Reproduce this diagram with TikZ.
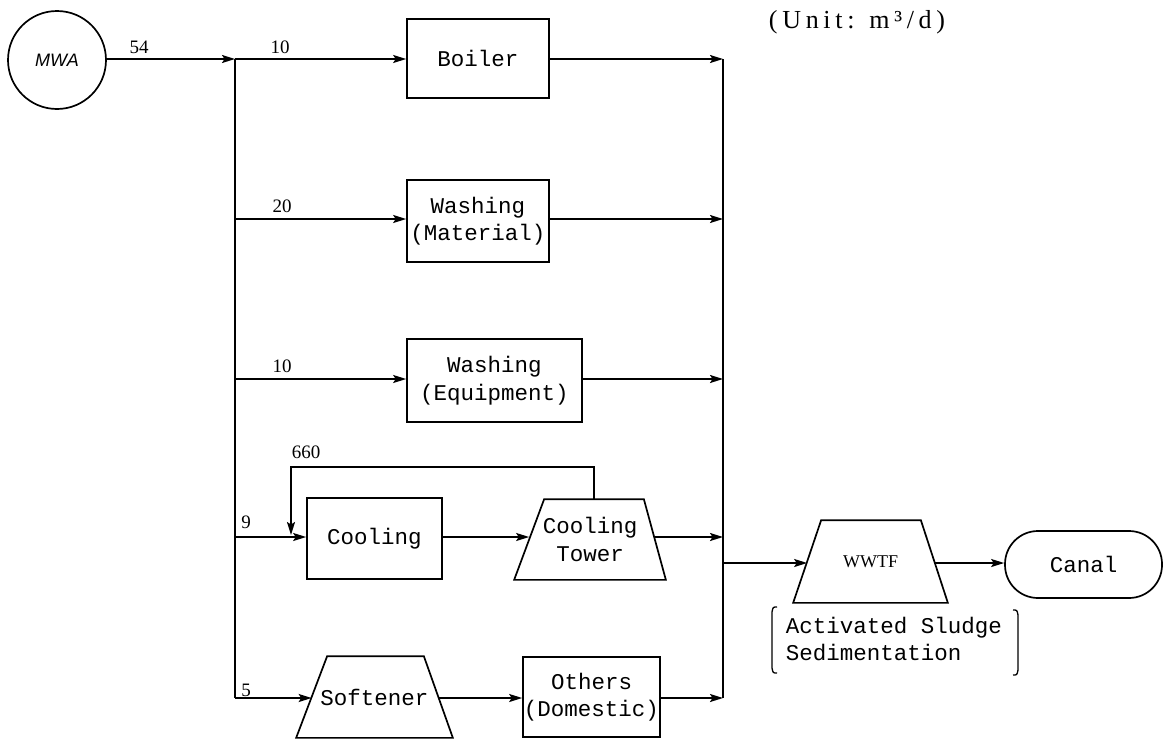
\documentclass[tikz,border=0pt]{standalone}
\usepackage{fontspec}
\setmainfont{Liberation Serif}
\setmonofont{Liberation Mono}
\setsansfont{Liberation Sans}
\newfontfamily\unitfam[LetterSpace=18]{Liberation Serif}
\usetikzlibrary{arrows.meta,calc}
\newcommand\boxfont{\fontsize{22.5}{27.5}\selectfont\ttfamily}
\newcommand\numfont{\fontsize{19}{22}\selectfont\rmfamily}
\newcommand\mwafont{\fontsize{18}{21}\selectfont\sffamily\itshape}
\newcommand\wwtffont{\fontsize{18}{21}\selectfont\rmfamily}
\newcommand\unitfontcmd{\fontsize{26}{30}\selectfont\unitfam}
\begin{document}
\begin{tikzpicture}[x=1pt,y=-1pt,line width=1.7pt,
  arr/.style={-{Stealth[length=13pt,width=8pt,inset=2.5pt]}},
  box/.style={draw,rectangle,font=\boxfont,align=center,inner sep=0pt},
  tz/.style={rectangle,font=\boxfont,align=center,inner sep=0pt},
  num/.style={font=\numfont,inner sep=0pt},
  brk/.style={line width=1.3pt}]
\useasboundingbox (0,0) rectangle (1164,739);

\node[draw,circle,minimum size=98pt,inner sep=0pt,font=\mwafont] (mwa) at (57,60) {MWA};

\node[box,minimum width=142pt,minimum height=79pt] (boiler) at (478,58.5) {Boiler};
\node[box,minimum width=142pt,minimum height=82pt] (wmat) at (478,221) {Washing\\(Material)};
\node[box,minimum width=175pt,minimum height=83pt] (weq) at (494.5,380.5) {Washing\\(Equipment)};
\node[box,minimum width=135pt,minimum height=81pt] (cool) at (374.5,538.5) {Cooling};
\node[box,minimum width=137pt,minimum height=80pt] (others) at (591.5,697) {Others\\(Domestic)};
\node[draw,rectangle,rounded corners=33pt,minimum width=157pt,minimum height=67pt,font=\boxfont,inner sep=0pt] (canal) at (1083.5,564.5) {Canal};

% trapezoids
\node[tz,minimum width=150pt,minimum height=79pt] (tower) at (590,539.5) {Cooling\\Tower};
\path ([xshift=30pt]tower.north west) coordinate (towerTL)
      ([xshift=-22pt]tower.north east) coordinate (towerTR);
\draw (tower.south west) -- (towerTL) -- (towerTR) -- (tower.south east) -- cycle;
\coordinate (towerW) at ($(tower.south west)!0.5!(towerTL)$);
\coordinate (towerE) at ($(tower.south east)!0.5!(towerTR)$);
\coordinate (towerN) at ($(towerTL)!0.5!(towerTR)$);

\node[tz,minimum width=155pt,minimum height=80pt] (soft) at (374.5,697) {Softener};
\path ([xshift=31pt]soft.north west) coordinate (softTL)
      ([xshift=-29pt]soft.north east) coordinate (softTR);
\draw (soft.south west) -- (softTL) -- (softTR) -- (soft.south east) -- cycle;
\coordinate (softW) at ($(soft.south west)!0.5!(softTL)$);
\coordinate (softE) at ($(soft.south east)!0.5!(softTR)$);

\node[tz,minimum width=153pt,minimum height=81pt,font=\wwtffont] (wwtf) at (870.5,561.5) {WWTF};
\path ([xshift=28pt]wwtf.north west) coordinate (wwtfTL)
      ([xshift=-27pt]wwtf.north east) coordinate (wwtfTR);
\draw (wwtf.south west) -- (wwtfTL) -- (wwtfTR) -- (wwtf.south east) -- cycle;
\coordinate (wwtfW) at ($(wwtf.south west)!0.5!(wwtfTL)$);
\coordinate (wwtfE) at ($(wwtf.south east)!0.5!(wwtfTR)$);

\coordinate (t1) at (235,59);
\coordinate (t2) at (235,219);
\coordinate (t3) at (235,379);
\coordinate (t4) at (235,537);
\coordinate (t5) at (235,698);
\coordinate (c1) at (723,59);
\coordinate (c2) at (723,219);
\coordinate (c3) at (723,379);
\coordinate (c4) at (723,537);
\coordinate (c5) at (723,698);
\coordinate (cw) at (723,563);
\coordinate (fbL) at (291,467);
\coordinate (fbE) at (291,535);

\draw[arr] (mwa.east |- t1) -- (t1);
\draw (t1) -- (t5);
\draw (c1) -- (c5);
\draw[arr] (t1) -- (t1 -| boiler.west);
\draw[arr] (t2) -- (t2 -| wmat.west);
\draw[arr] (t3) -- (t3 -| weq.west);
\draw[arr] (t4) -- (t4 -| cool.west);
\draw[arr] (t5) -- (t5 -| softW);
\draw[arr] (boiler.east |- c1) -- (c1);
\draw[arr] (wmat.east |- c2) -- (c2);
\draw[arr] (weq.east |- c3) -- (c3);
\draw[arr] (towerE |- c4) -- (c4);
\draw[arr] (others.east |- c5) -- (c5);
\draw[arr] (cool.east |- t4) -- (t4 -| towerW);
\draw[arr] (softE |- t5) -- (t5 -| others.west);
\draw[arr] (towerN) |- (fbL) -- (fbE);
\draw[arr] (cw) -- (cw -| wwtfW);
\draw[arr] (wwtfE |- cw) -- (cw -| canal.west);

\node[num] (l54) at (139,47) {54};
\node[num] (l10a) at (280,47) {10};
\node[num] (l20) at (282,206) {20};
\node[num] (l10b) at (282,366) {10};
\node[num] (l660) at (306,452) {660};
\node[num] (l9) at (246,522) {9};
\node[num] (l5) at (246,690) {5};

\node[font=\unitfontcmd,inner sep=0pt] (unit) at (857,22) {(Unit: m³/d)};

\node[font=\boxfont,align=left,anchor=west,inner sep=0pt] (note) at (785,639) {Activated Sludge\\Sedimentation};
\draw[brk] (777,607) .. controls (773,607) .. (772,612) -- (772,668) .. controls (773,673) .. (777,673);
\draw[brk] (1013,610) .. controls (1017,610) .. (1018,615) -- (1018,670) .. controls (1017,675) .. (1013,675);
\end{tikzpicture}
\end{document}
